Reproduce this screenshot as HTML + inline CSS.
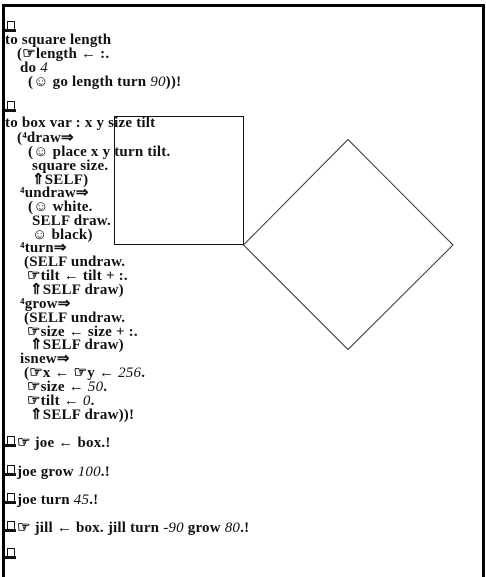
<!DOCTYPE html>
<html><head><meta charset="utf-8"><style>
html,body{margin:0;padding:0;background:#fff;width:486px;height:567px;overflow:hidden}
#frame{position:absolute;left:2px;top:4px;width:477px;height:570px;border:3px solid #000;border-bottom:none;background:#fff}
.l{position:absolute;font:bold 15px "Liberation Serif",serif;color:#111;white-space:pre;line-height:14px;letter-spacing:0.2px}
.l i{font-weight:normal}
.ic{display:inline-block;width:12px;height:12px;position:relative;vertical-align:-1px}
.ic:before{content:"";position:absolute;left:2px;top:0;width:6px;height:7px;border:1.5px solid #111;border-bottom:none}
.ic:after{content:"";position:absolute;left:0;top:8px;width:11px;height:3px;background:#111}
.bang{font-weight:900}
</style></head><body>
<div id="frame"></div>
<svg width="486" height="567" style="position:absolute;left:0;top:0">
<rect x="114.5" y="116.5" width="129" height="128" fill="none" stroke="#111" stroke-width="1"/>
<polygon points="243.5,245 348,139.5 453,245 348,349.5" fill="none" stroke="#333" stroke-width="1"/>
</svg>
<div class="l" style="left:5px;top:21px"><span class="ic"></span></div>
<div class="l" style="left:5px;top:33px">to square length</div>
<div class="l" style="left:17px;top:47px">(☞length ← :.</div>
<div class="l" style="left:20px;top:61px">do <i>4</i></div>
<div class="l" style="left:28px;top:75px">(☺ go length turn <i>90</i>))<span class="bang">!</span></div>
<div class="l" style="left:5px;top:101px"><span class="ic"></span></div>
<div class="l" style="left:5px;top:116px">to box var : x y size tilt</div>
<div class="l" style="left:17px;top:131px">(⁴draw⇒</div>
<div class="l" style="left:28px;top:145px">(☺ place x y turn tilt.</div>
<div class="l" style="left:32px;top:159px">square size.</div>
<div class="l" style="left:32px;top:173px">⇑SELF)</div>
<div class="l" style="left:20px;top:186px">⁴undraw⇒</div>
<div class="l" style="left:28px;top:200px">(☺ white.</div>
<div class="l" style="left:32px;top:214px">SELF draw.</div>
<div class="l" style="left:32px;top:228px">☺ black)</div>
<div class="l" style="left:20px;top:241px">⁴turn⇒</div>
<div class="l" style="left:24px;top:255px">(SELF undraw.</div>
<div class="l" style="left:27px;top:269px">☞tilt ← tilt + :.</div>
<div class="l" style="left:30px;top:283px">⇑SELF draw)</div>
<div class="l" style="left:20px;top:297px">⁴grow⇒</div>
<div class="l" style="left:24px;top:311px">(SELF undraw.</div>
<div class="l" style="left:27px;top:325px">☞size ← size + :.</div>
<div class="l" style="left:30px;top:338px">⇑SELF draw)</div>
<div class="l" style="left:20px;top:352px">isnew⇒</div>
<div class="l" style="left:24px;top:366px">(☞x ← ☞y ← <i>256</i>.</div>
<div class="l" style="left:27px;top:380px">☞size ← <i>50</i>.</div>
<div class="l" style="left:27px;top:394px">☞tilt ← <i>0</i>.</div>
<div class="l" style="left:30px;top:408px">⇑SELF draw))<span class="bang">!</span></div>
<div class="l" style="left:5px;top:436px"><span class="ic"></span>☞ joe ← box.<span class="bang">!</span></div>
<div class="l" style="left:5px;top:465px"><span class="ic"></span>joe grow <i>100</i>.<span class="bang">!</span></div>
<div class="l" style="left:5px;top:493px"><span class="ic"></span>joe turn <i>45</i>.<span class="bang">!</span></div>
<div class="l" style="left:5px;top:521px"><span class="ic"></span>☞ jill ← box. jill turn <i>-90</i> grow <i>80</i>.<span class="bang">!</span></div>
<div class="l" style="left:5px;top:548px"><span class="ic"></span></div>
</body></html>
